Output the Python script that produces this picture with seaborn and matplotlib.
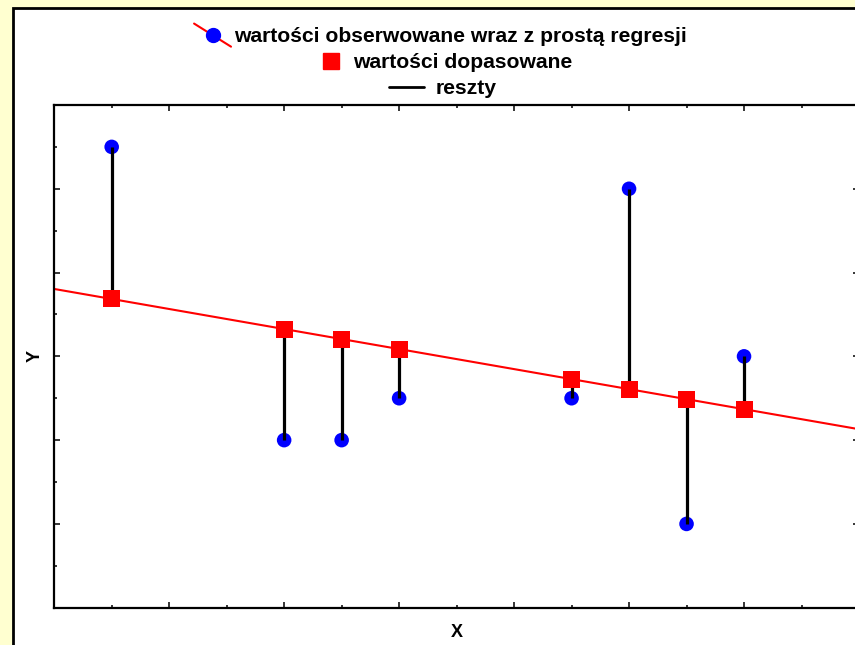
"""Regression residual plot: observed values, fitted values and residuals."""
import numpy as np
import pandas as pd
import matplotlib
matplotlib.use('Agg')
import matplotlib.pyplot as plt
import seaborn as sns
from matplotlib.lines import Line2D
from matplotlib.patches import Rectangle
from matplotlib.legend_handler import HandlerBase
from matplotlib.ticker import MultipleLocator, NullFormatter

# data
x_obs = [1, 4, 5, 6, 9, 10, 11, 12]
y_obs = [11, 4, 4, 5, 5, 10, 2, 6]
x_limits = [0, 14]
y_limits = [0, 12]

legend_labels = ['wartości obserwowane wraz z prostą regresji',
                 'wartości dopasowane',
                 'reszty']

df = pd.DataFrame({'x': x_obs, 'y': y_obs})
slope, intercept = np.polyfit(df['x'], df['y'], 1)
df['fit'] = intercept + slope * df['x']

sns.set_style('white')
plt.rcParams['font.family'] = ['Liberation Sans', 'DejaVu Sans']
plt.rcParams['font.weight'] = 'bold'
plt.rcParams['text.color'] = 'black'
plt.rcParams['axes.labelcolor'] = 'black'

W, H = 855, 645
fig = plt.figure(figsize=(W / 100, H / 100), dpi=100)
fig.patch.set_facecolor('#FFFFD0')
fig.patches.append(Rectangle((13 / W, -0.1), 1.2, 1 - 8 / H + 0.1,
                             transform=fig.transFigure, facecolor='white',
                             edgecolor='black', lw=2, zorder=-1))

ax_left, ax_right = 54.2 / W, 859 / W
ax_bottom, ax_top = 1 - 607.7 / H, 1 - 105 / H
ax = fig.add_axes([ax_left, ax_bottom, ax_right - ax_left, ax_top - ax_bottom])
ax.set_xlim(*x_limits)
ax.set_ylim(*y_limits)

sns.regplot(data=df, x='x', y='y', ax=ax, scatter=False, ci=None,
            truncate=False, line_kws=dict(color='red', lw=1.5, zorder=1))
sns.scatterplot(data=df, x='x', y='y', ax=ax, color='blue', marker='o',
                s=110, edgecolor='none', zorder=2)
ax.vlines(df['x'], df['fit'], df['y'], colors='black', lw=2.3, zorder=3)
sns.scatterplot(data=df, x='x', y='fit', ax=ax, color='red', marker='s',
                s=150, edgecolor='none', zorder=4)

ax.set_xlim(*x_limits)
ax.set_ylim(*y_limits)
ax.xaxis.set_major_locator(MultipleLocator(2))
ax.xaxis.set_minor_locator(MultipleLocator(1))
ax.yaxis.set_major_locator(MultipleLocator(2))
ax.yaxis.set_minor_locator(MultipleLocator(1))
ax.xaxis.set_major_formatter(NullFormatter())
ax.yaxis.set_major_formatter(NullFormatter())
ax.tick_params(which='both', direction='in', top=True, right=True,
               bottom=True, left=True, color='black', width=1.1)
ax.tick_params(which='major', length=4)
ax.tick_params(which='minor', length=2.5)
for sp in ax.spines.values():
    sp.set_visible(True)
    sp.set_color('black')
    sp.set_linewidth(1.6)

ax.set_xlabel('X', fontsize=13, fontweight='bold', labelpad=8)
ax.set_ylabel('Y', fontsize=13, fontweight='bold', labelpad=4)


class DiagHandler(HandlerBase):
    def create_artists(self, legend, orig_handle, xdescent, ydescent,
                       width, height, fontsize, trans):
        x0, x1 = -xdescent, width - xdescent
        y0, y1 = -ydescent - 3, height - ydescent + 3
        line = Line2D([x0, x1], [y1, y0], color='red', lw=1.5)
        dot = Line2D([(x0 + x1) / 2], [(y0 + y1) / 2], marker='o', ls='',
                     color='blue', markersize=10)
        line.set_transform(trans)
        dot.set_transform(trans)
        return [line, dot]


h_obs = Line2D([], [], color='blue', marker='o')
h_fit = Line2D([], [], ls='', marker='s', color='red', markersize=11)
h_res = Line2D([], [], color='black', lw=2)

# handle, label, centre x, centre y (px), handle length, text pad
rows = [(h_obs, legend_labels[0], 440.5, 37, 1.75, 0.15),
        (h_fit, legend_labels[1], 446.5, 63, 0.9, 0.6),
        (h_res, legend_labels[2], 442.5, 89, 1.65, 0.55)]
for handle, label, cx, cy, hl, tp in rows:
    fig.legend([handle], [label], loc='center',
               bbox_to_anchor=(cx / W, 1 - cy / H),
               frameon=False, borderpad=0, borderaxespad=0,
               handlelength=hl, handletextpad=tp, labelcolor='black',
               prop=dict(family='Liberation Sans', weight='bold', size=15.2),
               handler_map={h_obs: DiagHandler()})

fig.savefig('out.png', dpi=100, facecolor=fig.get_facecolor())
